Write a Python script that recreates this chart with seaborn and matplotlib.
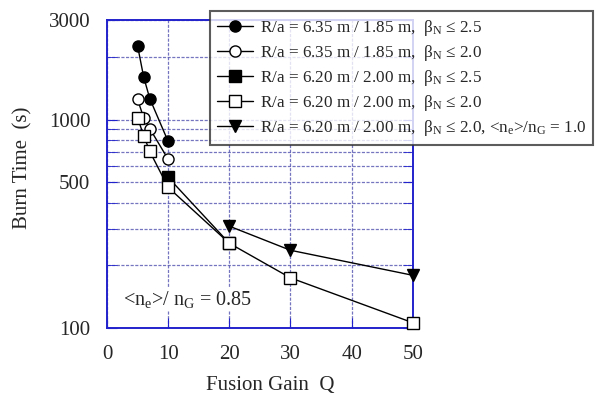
import matplotlib
matplotlib.use("Agg")
import matplotlib.pyplot as plt
import matplotlib.ticker as mticker
import seaborn as sns
import pandas as pd

# data (Q, burn time in s)
q_a = [5, 6, 7, 10]
t_a = [2260, 1600, 1260, 785]
q_b = [5, 6, 7, 10]
t_b = [1250, 1020, 905, 645]
q_c = [10, 20]
t_c = [528, 255]
q_d = [5, 6, 7, 10, 20, 30, 50]
t_d = [1020, 838, 703, 473, 255, 174, 106]
q_e = [20, 30, 50]
t_e = [308, 236, 179]

labels = [
    r"R/a = 6.35 m / 1.85 m,  β$_\mathrm{N}$ ≤ 2.5",
    r"R/a = 6.35 m / 1.85 m,  β$_\mathrm{N}$ ≤ 2.0",
    r"R/a = 6.20 m / 2.00 m,  β$_\mathrm{N}$ ≤ 2.5",
    r"R/a = 6.20 m / 2.00 m,  β$_\mathrm{N}$ ≤ 2.0",
    r"R/a = 6.20 m / 2.00 m,  β$_\mathrm{N}$ ≤ 2.0, <n$_\mathrm{e}$>/n$_\mathrm{G}$ = 1.0",
]

sns.set_style("white")
plt.rcParams['font.family'] = ['Liberation Serif', 'DejaVu Serif']
plt.rcParams['mathtext.fontset'] = 'custom'
plt.rcParams['mathtext.rm'] = 'Liberation Serif'
plt.rcParams['mathtext.it'] = 'Liberation Serif:italic'

fig = plt.figure(figsize=(6.02, 3.94), dpi=100)
ax = fig.add_axes([0.1777, 0.1675, 0.508, 0.7815])

series = [
    (q_a, t_a, "o", "black"),
    (q_b, t_b, "o", "white"),
    (q_c, t_c, "s", "black"),
    (q_d, t_d, "s", "white"),
    (q_e, t_e, "v", "black"),
]
for (qs, ts, mk, fc), lab in zip(series, labels):
    df = pd.DataFrame({"Q": qs, "T": ts})
    sns.lineplot(data=df, x="Q", y="T", ax=ax, color="black", lw=1.0,
                 marker=mk, markersize=8, markerfacecolor=fc,
                 markeredgecolor="black", markeredgewidth=1.0, label=lab,
                 zorder=3, clip_on=False)

ax.set_yscale("log")
ax.set_xlim(0, 50)
ax.set_ylim(100, 3000)
ax.xaxis.set_major_locator(mticker.MultipleLocator(10))
ax.yaxis.set_major_locator(mticker.FixedLocator([100, 500, 1000, 3000]))
ax.yaxis.set_major_formatter(mticker.FixedFormatter(["100", "500", "1000", "3000"]))
ax.yaxis.set_minor_locator(mticker.FixedLocator([200, 300, 400, 600, 700, 800, 900, 2000]))
ax.yaxis.set_minor_formatter(mticker.NullFormatter())

gc = "#5c5cb4"
ax.grid(True, which="both", color=gc, ls=(0, (2.5, 1.2)), lw=0.9, alpha=0.85)
for s in ax.spines.values():
    s.set_color("#2222cc")
    s.set_linewidth(1.4)
ax.tick_params(which="both", direction="in", color="#2222cc", left=True,
               right=True, bottom=True, labelsize=15, pad=12, length=7)

ax.set_xlabel("Fusion Gain  Q", fontsize=15)
ax.set_ylabel("Burn Time  (s)", fontsize=15)
ax.xaxis.set_label_coords(0.535, -0.155)
ax.yaxis.set_label_coords(-0.242, 0.52)

ax.text(2.6, 122, r"<n$_\mathrm{e}$>/ n$_\mathrm{G}$ = 0.85", fontsize=14.5,
        ha="left", va="bottom",
        bbox=dict(facecolor="white", edgecolor="none", pad=1))

leg = ax.legend(loc="upper left", bbox_to_anchor=(210 / 602, 1 - 11 / 394),
                bbox_transform=fig.transFigure, fontsize=12.3, frameon=True,
                fancybox=False, handlelength=2.1, labelspacing=0.3,
                borderpad=0.4, handletextpad=0.4, borderaxespad=0)
leg.get_frame().set_edgecolor("#333333")
leg.get_frame().set_linewidth(1.5)
leg.set_zorder(5)

fig.savefig("out.png", dpi=100)
